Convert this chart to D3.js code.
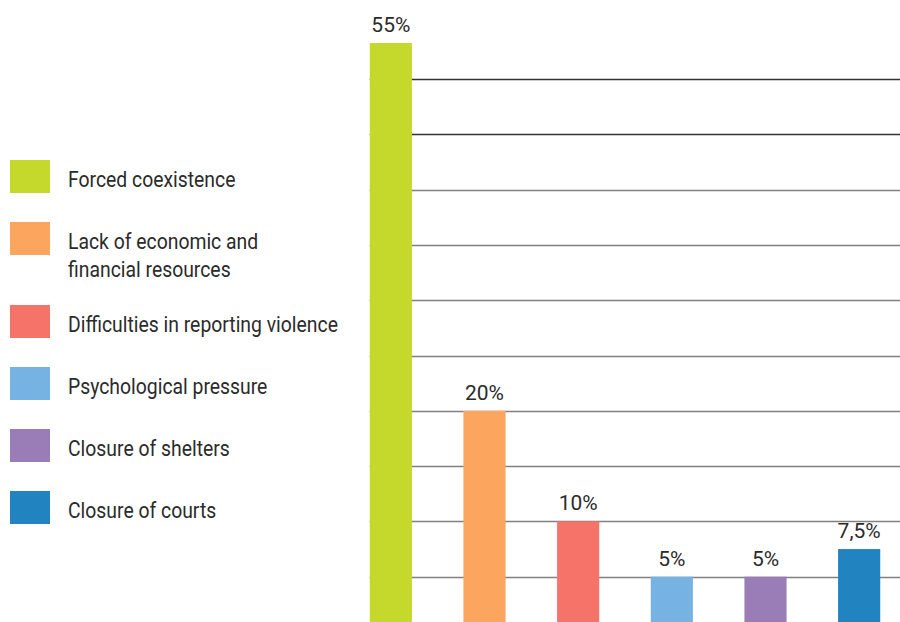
<!DOCTYPE html>
<html>
<head>
<meta charset="utf-8">
<script src="https://cdn.jsdelivr.net/npm/d3@7"></script>
<style>
  html, body { margin: 0; padding: 0; background: #fff; }
  svg { display: block; }
  text { font-family: Roboto, "Liberation Sans", sans-serif; fill: #2b2b2b; }
</style>
</head>
<body>
<svg id="chart" width="900" height="622"></svg>
<script>
// values
const categories = [
  "Forced coexistence",
  "Lack of economic and\nfinancial resources",
  "Difficulties in reporting violence",
  "Psychological pressure",
  "Closure of shelters",
  "Closure of courts"
]
const values = [55, 20, 10, 5, 5, 7.5]
const colors = ["#c4d92b", "#fca55f", "#f6736a", "#77b3e2", "#9a7cb7", "#2183c0"]
const gridValues = [5, 10, 15, 20, 25, 30, 35, 40, 45, 50]

const svg = d3.select('#chart')
const width = 900
const height = 622

const x = d3.scaleBand()
  .domain(categories)
  .range([344, 906])
  .paddingInner(0.55)
  .paddingOuter(0.275)

// top bar is squeezed above the 50% line like in the original
const y = d3.scaleLinear()
  .domain([0, 50, 55])
  .range([632, 79, 43])

const fmt = d3.formatLocale({ decimal: ",", thousands: ".", grouping: [3], currency: ["", "€"] }).format("~g")

// grid lines, darker near the top
const gridColor = d3.scaleLinear().domain([45, 40]).range(["#333", "#808080"]).clamp(true)
svg.append("g")
  .selectAll("line")
  .data(gridValues)
  .join("line")
    .attr("x1", x(categories[0]))
    .attr("x2", width)
    .attr("y1", d => Math.round(y(d)) + 0.5)
    .attr("y2", d => Math.round(y(d)) + 0.5)
    .attr("stroke", d => gridColor(d))
    .attr("stroke-width", 1.3)

// bars
svg.append("g")
  .selectAll("rect")
  .data(values)
  .join("rect")
    .attr("x", (d, i) => x(categories[i]))
    .attr("y", d => y(d))
    .attr("width", x.bandwidth())
    .attr("height", d => y(0) - y(d))
    .attr("fill", (d, i) => colors[i])

// value labels
svg.append("g")
  .selectAll("text")
  .data(values)
  .join("text")
    .attr("x", (d, i) => x(categories[i]) + x.bandwidth() / 2)
    .attr("y", d => y(d) - 11)
    .attr("text-anchor", "middle")
    .style("font-size", "21px")
    .text(d => fmt(d) + "%")

// legend (condensed look: squeeze the text horizontally)
let legendY = 160
const legend = svg.append("g")
categories.forEach((c, i) => {
  const lines = c.split("\n")
  const g = legend.append("g").attr("transform", "translate(10," + legendY + ")")
  g.append("rect")
    .attr("width", 40)
    .attr("height", 33)
    .attr("fill", colors[i])
  g.append("text")
    .attr("transform", "translate(58,27) scale(0.88,1)")
    .style("font-size", "22px")
    .selectAll("tspan")
    .data(lines)
    .join("tspan")
      .attr("x", 0)
      .attr("dy", (d, j) => j === 0 ? 0 : 28)
      .text(d => d)
  legendY += 62 + (lines.length - 1) * 21
})
</script>
</body>
</html>
